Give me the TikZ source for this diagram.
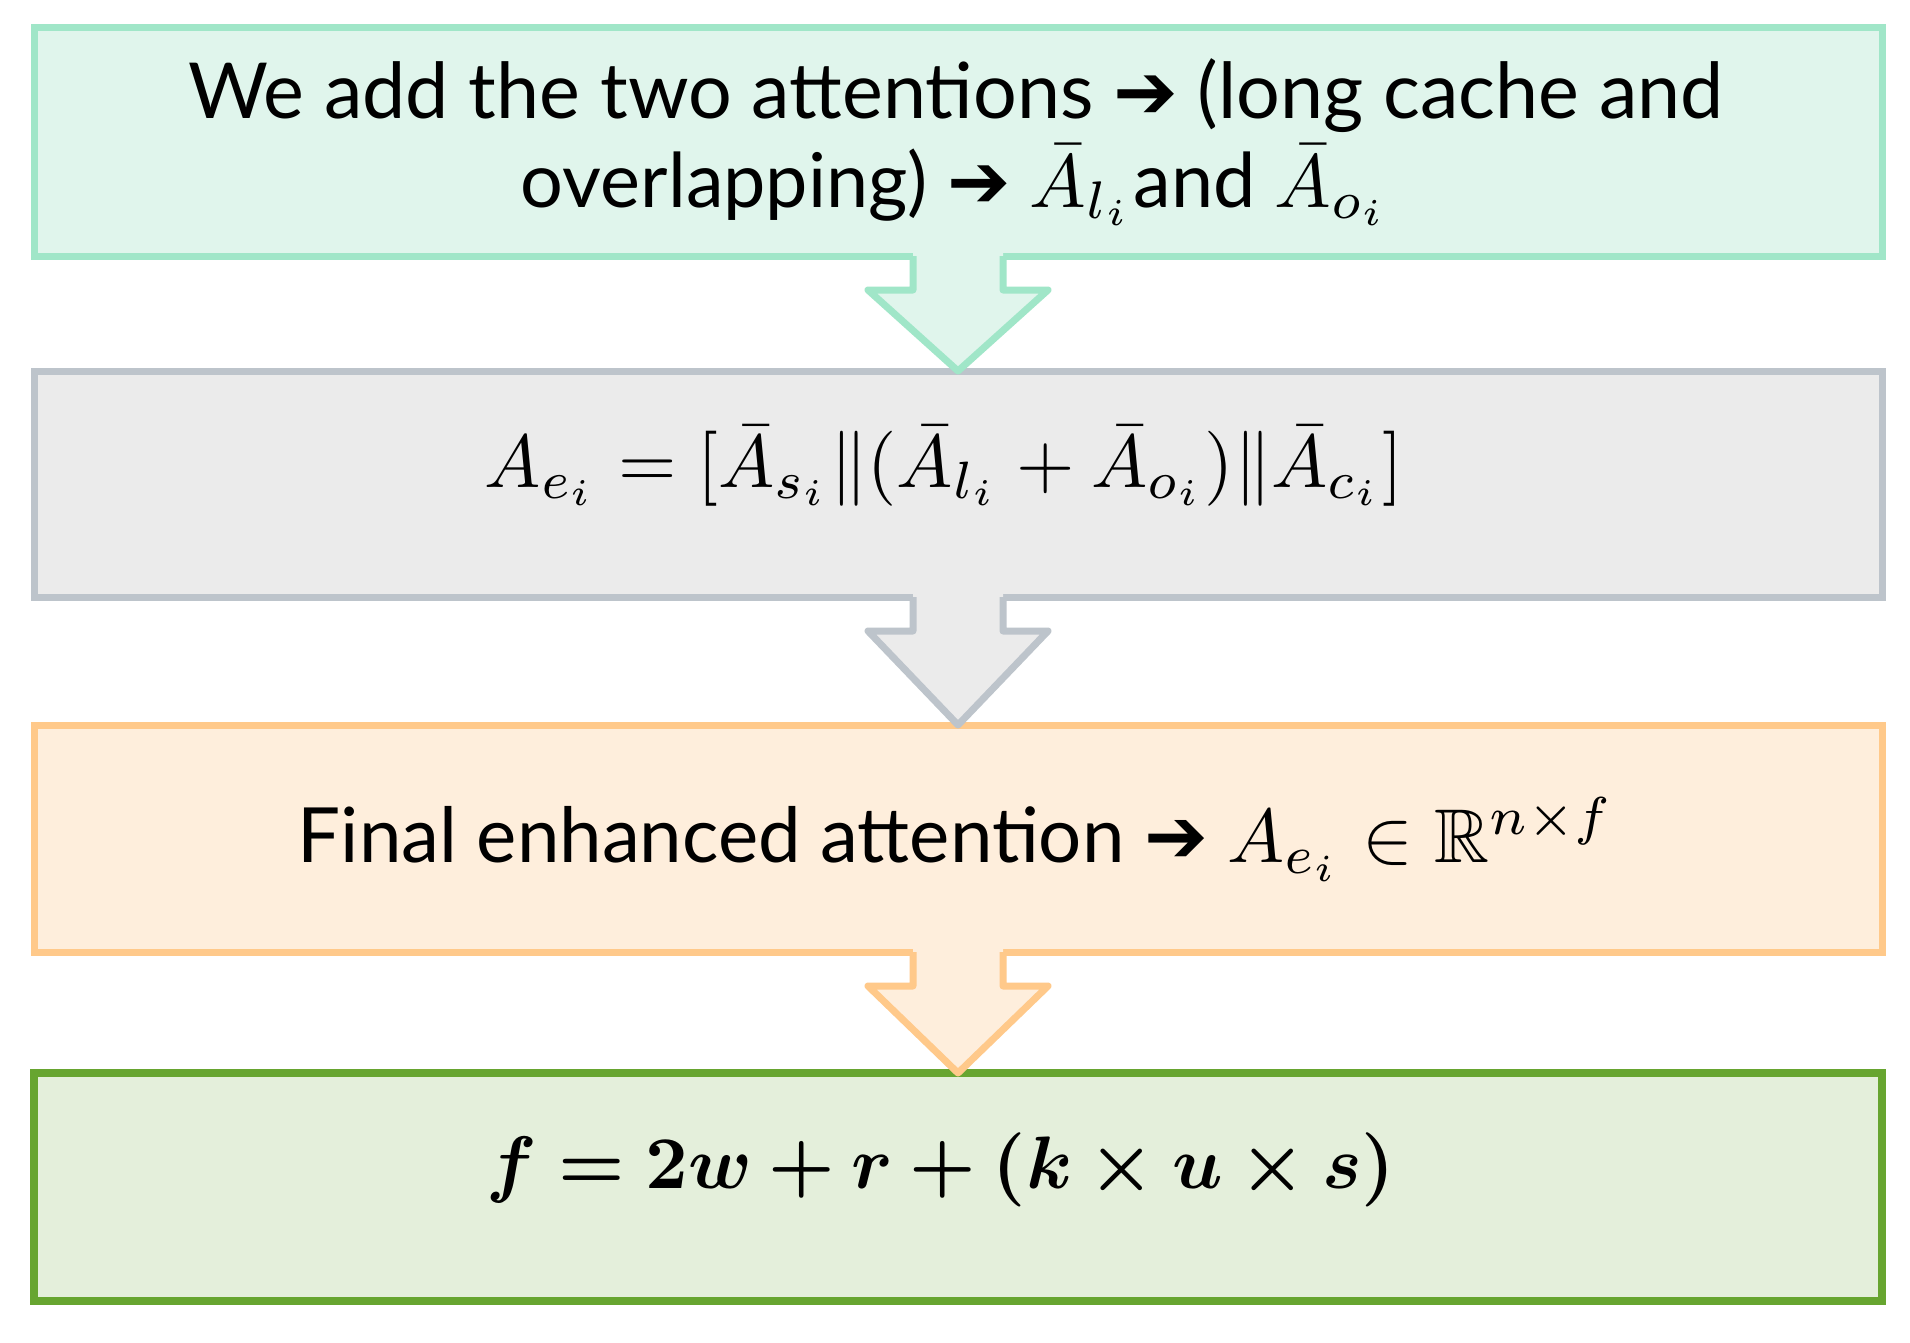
\documentclass[tikz,border=0pt]{standalone}
\usepackage{amsmath,amssymb,bm}
\usepackage[no-math]{fontspec}
\setmainfont{Lato}
\newfontfamily\arrowfont{DejaVu Sans}
\usepackage{graphicx}
\usetikzlibrary{calc}
\definecolor{cAf}{HTML}{E0F5EC}
\definecolor{cAl}{HTML}{A0E6C8}
\definecolor{cBf}{HTML}{EBEBEB}
\definecolor{cBl}{HTML}{BDC4CB}
\definecolor{cCf}{HTML}{FEEEDC}
\definecolor{cCl}{HTML}{FFC98A}
\definecolor{cDf}{HTML}{E4EFDB}
\definecolor{cDl}{HTML}{67A530}
\tikzset{
  stagebox/.style={draw, rectangle, minimum width=1848pt, inner sep=0pt, outer sep=0pt, line width=7pt},
  txt/.style={anchor=base, inner sep=0pt, outer sep=0pt, text=black},
  arrline/.style={line width=7pt, line join=round}
}
\newcommand\blockarrow[4]{%
  \path (#1.south) coordinate (#1tail);
  \fill[#3] ($(#1tail)+(-45,-4)$) -- ($(#1tail)+(-45,34)$) -- ($(#1tail)+(-90,34)$) -- (#2.north)
     -- ($(#1tail)+(90,34)$) -- ($(#1tail)+(45,34)$) -- ($(#1tail)+(45,-4)$) -- cycle;
  \draw[arrline, #4] ($(#1tail)+(-45,0)$) -- ($(#1tail)+(-45,34)$) -- ($(#1tail)+(-90,34)$) -- (#2.north)
     -- ($(#1tail)+(90,34)$) -- ($(#1tail)+(45,34)$) -- ($(#1tail)+(45,0)$);
}
\newcommand\fatarrow{{\arrowfont ➔}}
\begin{document}
\begin{tikzpicture}[x=1pt,y=-1pt]
\useasboundingbox[fill=white] (0,0) rectangle (1910,1342);
% boxes
\node[stagebox, fill=cAf, draw=cAl, minimum height=229pt] (b1) at (958,141.5) {};
\node[stagebox, fill=cBf, draw=cBl, minimum height=226pt] (b2) at (958,484) {};
\node[stagebox, fill=cCf, draw=cCl, minimum height=227pt] (b3) at (958,838.5) {};
\node[stagebox, fill=cDf, draw=cDl, minimum height=228pt, line width=8pt] (b4) at (958,1187) {};
% arrows
\blockarrow{b1}{b2}{cAf}{cAl}
\blockarrow{b2}{b3}{cBf}{cBl}
\blockarrow{b3}{b4}{cCf}{cCl}
% texts
\node[txt] (t1) at (956,118) {\resizebox{1535pt}{!}{We add the two attentions \fatarrow{} (long cache and}};
\node[txt] (t2) at (955,207) {\resizebox{868pt}{!}{overlapping) \fatarrow{} $\bar{A}_{l_i}$and $\bar{A}_{o_i}$}};
\node[txt] (t3) at (944,487) {\resizebox{918pt}{!}{$A_{e_i} = [\bar{A}_{s_i}\|(\bar{A}_{l_i}+\bar{A}_{o_i})\|\bar{A}_{c_i}]$}};
\node[txt] (t4) at (956,862) {\resizebox{1316pt}{!}{Final enhanced attention \fatarrow{} $A_{e_i}\in\mathbb{R}^{n\times f}$}};
\node[txt] (t5) at (941,1188) {\resizebox{908pt}{!}{$\bm{f = 2w + r + (k\times u\times s)}$}};
\end{tikzpicture}
\end{document}
